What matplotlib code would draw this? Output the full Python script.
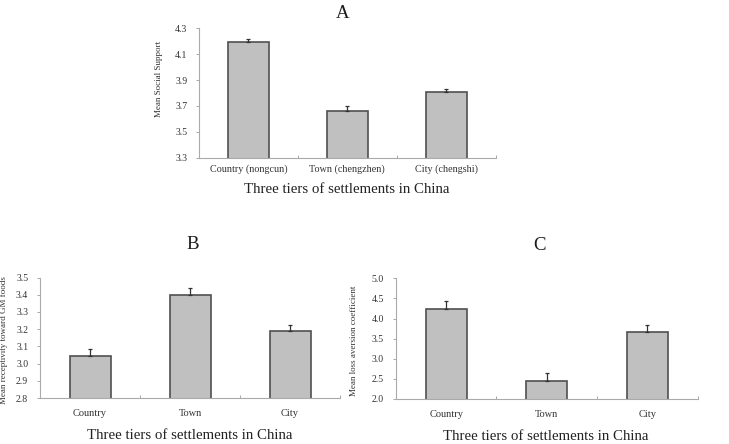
import numpy as np
import matplotlib
matplotlib.use('Agg')
import matplotlib.pyplot as plt

plt.rcParams['font.family'] = ['Liberation Serif', 'DejaVu Serif']

# Panel A - social support
a_labels = ['Country (nongcun)', 'Town (chengzhen)', 'City (chengshi)']
a_means = [4.198, 3.661, 3.806]
a_err = [0.018, 0.04, 0.026]

# Panel B - receptivity toward GM foods
b_labels = ['Country', 'Town', 'City']
b_means = [3.045, 3.397, 3.187]
b_err = [0.037, 0.04, 0.035]

# Panel C - loss aversion coefficient
c_labels = ['Country', 'Town', 'City']
c_means = [4.23, 2.455, 3.667]
c_err = [0.21, 0.2, 0.165]

xlabel = 'Three tiers of settlements in China'

fig = plt.figure(figsize=(7.29, 4.44), dpi=100)

axA = fig.add_axes([0.273, 0.645, 0.407, 0.291])
axB = fig.add_axes([0.0549, 0.1036, 0.4115, 0.2714])
axC = fig.add_axes([0.543, 0.1014, 0.414, 0.2718])


def draw_panel(ax, labels, means, err, yticks, ylabel, letter, tick_fs, tick_pad,
               title_xy, xlab_xy, ylab_xy):
    x = np.arange(len(labels))
    ax.bar(x, means, width=0.41, color='#c0c0c0', edgecolor='#505050', linewidth=1.2, zorder=2)
    ax.errorbar(x, means, yerr=[np.zeros(len(err)), err], fmt='none', ecolor='#333333',
                elinewidth=0.9, capsize=1.5, capthick=0.9, zorder=3)
    ax.set_xlim(-0.5, len(labels) - 0.5)
    ax.set_ylim(yticks[0], yticks[-1])
    ax.set_yticks(yticks)
    ax.set_yticklabels([f'{t:.1f}' for t in yticks])
    ax.set_xticks(x)
    ax.set_xticklabels(labels)
    ax.set_xticks(np.arange(-0.5, len(labels)), minor=True)
    ax.tick_params(axis='x', which='major', length=0, labelsize=tick_fs, pad=tick_pad, colors='#333333')
    ax.tick_params(axis='x', which='minor', length=2.5, direction='in', color='#999999')
    ax.tick_params(axis='y', length=2, width=0.6, color='#999999', labelsize=7, pad=6.5,
                   labelcolor='#333333')
    for s in ['top', 'right']:
        ax.spines[s].set_visible(False)
    for s in ['left', 'bottom']:
        ax.spines[s].set_color('#aaaaaa')
        ax.spines[s].set_linewidth(0.8)
    ax.set_ylabel(ylabel, fontsize=6.5, color='#333333')
    ax.yaxis.set_label_coords(*ylab_xy)
    ax.set_xlabel(xlabel, fontsize=10.7, color='#222222', va='center')
    ax.xaxis.set_label_coords(*xlab_xy)
    ax.text(title_xy[0], title_xy[1], letter, transform=ax.transAxes, fontsize=13.5,
            ha='center', va='center', color='#1a1a1a')


draw_panel(axA, a_labels, a_means, a_err, [3.3, 3.5, 3.7, 3.9, 4.1, 4.3],
           'Mean Social Support', 'A', 7.3, 5, (0.485, 1.112), (0.497, -0.25), (-0.121, 0.61))
draw_panel(axB, b_labels, b_means, b_err, [2.8, 2.9, 3.0, 3.1, 3.2, 3.3, 3.4, 3.5],
           'Mean receptivity toward GM foods', 'B', 7.5, 8, (0.51, 1.27), (0.5, -0.315), (-0.108, 0.48))
draw_panel(axC, c_labels, c_means, c_err, [2.0, 2.5, 3.0, 3.5, 4.0, 4.5, 5.0],
           'Mean loss aversion coefficient', 'C', 7.5, 8, (0.477, 1.268), (0.497, -0.307), (-0.126, 0.48))

fig.savefig('out.png', dpi=100)
